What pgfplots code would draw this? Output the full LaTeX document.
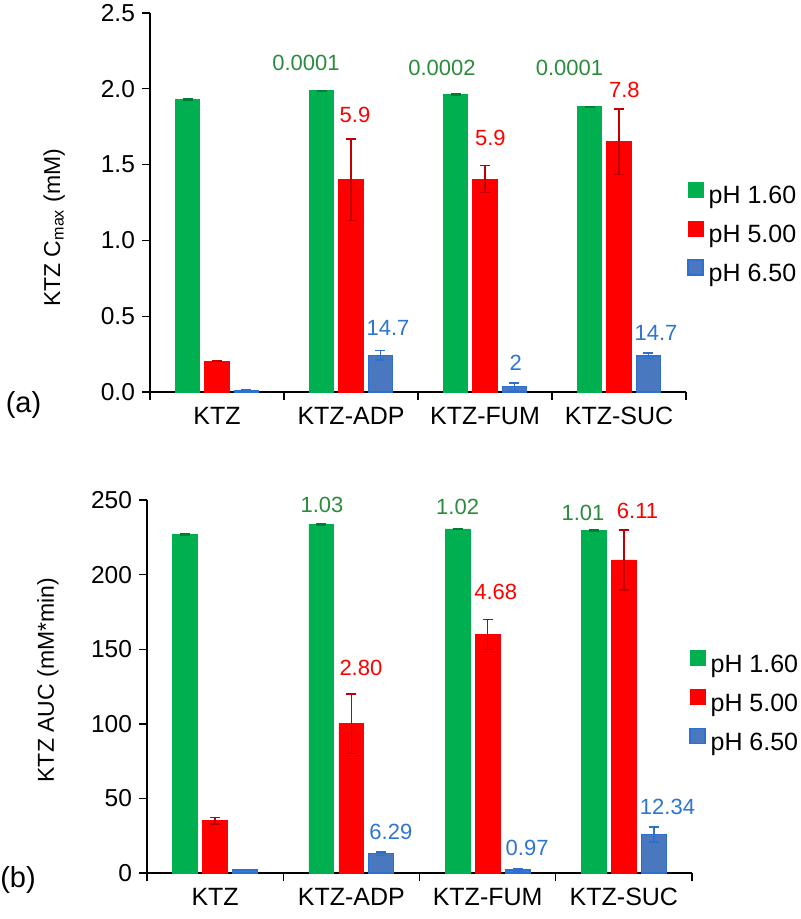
\documentclass[border=0pt]{standalone}
\usepackage{pgfplots}
\pgfplotsset{compat=1.18}
\usepackage{pgfplotstable}
\usepackage{fontspec}
\setmainfont{Liberation Sans}
\definecolor{cgreen}{HTML}{00B050}
\definecolor{cred}{HTML}{FF0000}
\definecolor{cblue}{HTML}{4A78BE}
\definecolor{cbluee}{HTML}{2E6FD0}
\definecolor{tgreen}{HTML}{2A8C3C}
\definecolor{tblue}{HTML}{2E75D0}
\definecolor{ered}{HTML}{C00000}

% x positions of the three bars in each group: group-0.22, group, group+0.22
\pgfplotstableread{
xg xr xb g ge r re b be
-0.22 0 0.22 1.930 0.003 0.204 0.003 0.012 0.002
0.78 1 1.22 1.987 0.003 1.400 0.270 0.242 0.030
1.78 2 2.22 1.963 0.003 1.405 0.090 0.035 0.025
2.78 3 3.22 1.882 0.003 1.651 0.215 0.238 0.018
}\cmax
\pgfplotstableread{
xg xr xb g ge r re b be
-0.22 0 0.22 227.0 0.4 35.1 2.3 2.0 0.4
0.78 1 1.22 233.7 0.4 100.1 20.0 12.9 1.2
1.78 2 2.22 230.6 0.4 160.0 10.0 2.0 1.0
2.78 3 3.22 229.7 0.4 209.8 20.0 25.9 5.0
}\auc

\pgfplotsset{
  mybars/.style={
    scale only axis,
    clip=false,
    axis x line=bottom, axis y line=left,
    axis line style={-, line width=0.7pt},
    xmin=-0.5, xmax=3.5,
    ymin=0,
    enlargelimits=false,
    tick align=outside,
    major tick length=4pt,
    tick style={line width=0.7pt, black},
    xtick={-0.5,0.5,1.5,2.5,3.5},
    xticklabels={},
    extra x ticks={0,1,2,3},
    extra x tick labels={KTZ,KTZ-ADP,KTZ-FUM,KTZ-SUC},
    extra x tick style={major tick length=0pt, tick label style={font=\fontsize{12.5}{14}\selectfont, yshift=-4pt}},
    /pgf/number format/assume math mode=true,
    y tick label style={font=\fontsize{12.25}{14}\selectfont},
    legend cell align=left,
    legend image code/.code={\fill[##1] (0pt,0pt) rectangle (7.5pt,7.5pt);},
    legend style={draw=none, fill=none, inner sep=0pt, row sep=6pt,
      font=\fontsize{12.5}{14}\selectfont,
      nodes={inner sep=0pt, text height=9pt, text depth=2.5pt},
      /tikz/every odd column/.style={column sep=2.5pt}},
    error bars/error bar style={line width=0.7pt},
    error bars/error mark options={rotate=90, mark size=2.5pt, line width=0.7pt},
  },
  gbar/.style={ybar, bar width=0.183, bar shift=0, fill=cgreen, draw=cgreen,
    error bars/.cd, y dir=both, y explicit, error bar style={color=cgreen!70!black}},
  rbar/.style={ybar, bar width=0.183, bar shift=0, fill=cred, draw=cred,
    error bars/.cd, y dir=both, y explicit, error bar style={color=ered}},
  bbar/.style={ybar, bar width=0.183, bar shift=0, fill=cblue, draw=cbluee, line width=0.6pt,
    error bars/.cd, y dir=both, y explicit, error bar style={color=cbluee}},
}

\begin{document}
\begin{tikzpicture}
\path[use as bounding box] (0,0) rectangle (400pt,-459.5pt);

% ---------- (a) ----------
\begin{axis}[mybars,
  at={(75pt,-196pt)}, anchor=south west,
  width=268pt, height=189.5pt,
  ymax=2.5, ytick={0,0.5,1,1.5,2,2.5},
  yticklabel style={/pgf/number format/.cd, fixed, fixed zerofill, precision=1},
  ylabel={KTZ C\textsubscript{max} (mM)},
  ylabel style={font=\fontsize{11.5}{14}\selectfont, at={(axis description cs:-0.179,0.433)}, anchor=center},
  legend style={at={(axis description cs:1.002,0.556)}, anchor=north west},
]
\addplot[gbar] table[x=xg, y=g, y error=ge] {\cmax};
\addplot[rbar] table[x=xr, y=r, y error=re] {\cmax};
\addplot[bbar] table[x=xb, y=b, y error=be] {\cmax};
\legend{pH 1.60, pH 5.00, pH 6.50}
\begin{scope}[every node/.style={font=\fontsize{11}{13}\selectfont}]
\node[text=tgreen] at (axis cs:0.664,2.17) {0.0001};
\node[text=cred]   at (axis cs:1.03,1.83) {5.9};
\node[text=tblue]  at (axis cs:1.276,0.42) {14.7};
\node[text=tgreen] at (axis cs:1.679,2.14) {0.0002};
\node[text=cred]   at (axis cs:2.04,1.675) {5.9};
\node[text=tblue]  at (axis cs:2.23,0.19) {2};
\node[text=tgreen] at (axis cs:2.63,2.14) {0.0001};
\node[text=cred]   at (axis cs:3.04,1.99) {7.8};
\node[text=tblue]  at (axis cs:3.276,0.39) {14.7};
\end{scope}
\end{axis}

% ---------- (b) ----------
\begin{axis}[mybars,
  at={(73.5pt,-436.5pt)}, anchor=south west,
  width=272.5pt, height=186.5pt,
  ymax=250, ytick={0,50,100,150,200,250},
  ylabel={KTZ AUC (mM*min)},
  ylabel style={font=\fontsize{11.5}{14}\selectfont, at={(axis description cs:-0.182,0.517)}, anchor=center},
  legend style={at={(axis description cs:0.9945,0.598)}, anchor=north west},
]
\addplot[gbar] table[x=xg, y=g, y error=ge] {\auc};
\addplot[rbar] table[x=xr, y=r, y error=re] {\auc};
\addplot[bbar] table[x=xb, y=b, y error=be] {\auc};
\legend{pH 1.60, pH 5.00, pH 6.50}
\begin{scope}[every node/.style={font=\fontsize{11}{13}\selectfont}]
\node[text=tgreen] at (axis cs:0.784,246.6) {1.03};
\node[text=cred]   at (axis cs:1.07,137.4) {2.80};
\node[text=tblue]  at (axis cs:1.29,27.5) {6.29};
\node[text=tgreen] at (axis cs:1.78,245.3) {1.02};
\node[text=cred]   at (axis cs:2.06,188.3) {4.68};
\node[text=tblue]  at (axis cs:2.29,16.8) {0.97};
\node[text=tgreen] at (axis cs:2.70,241.3) {1.01};
\node[text=cred]   at (axis cs:3.10,242.6) {6.11};
\node[text=tblue]  at (axis cs:3.32,44.2) {12.34};
\end{scope}
\end{axis}

\node[font=\fontsize{14.5}{16}\selectfont] at (11.75pt,-202.5pt) {(a)};
\node[font=\fontsize{14.5}{16}\selectfont] at (9pt,-440pt) {(b)};
\end{tikzpicture}
\end{document}
